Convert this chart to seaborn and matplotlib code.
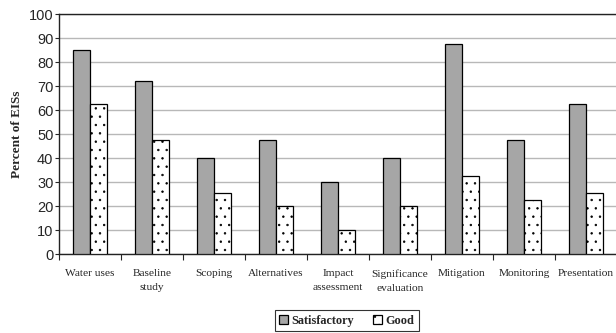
import pandas as pd
import matplotlib.pyplot as plt
import seaborn as sns
from matplotlib.ticker import FixedLocator

# dati
categories = ['Water uses', 'Baseline\nstudy', 'Scoping', 'Alternatives', 'Impact\nassessment',
              'Significance\nevaluation', 'Mitigation', 'Monitoring', 'Presentation']
satisfactory = [84.8, 72.2, 40.0, 47.7, 30.0, 40.0, 87.5, 47.7, 62.3]
good = [62.3, 47.7, 25.3, 20.0, 10.0, 20.0, 32.5, 22.5, 25.3]
series = ['Satisfactory', 'Good']

df = pd.DataFrame({
    'category': categories * 2,
    'value': satisfactory + good,
    'series': [series[0]] * len(categories) + [series[1]] * len(categories),
})

sns.set_style('white')
plt.rcParams['hatch.linewidth'] = 0.5
plt.rcParams['hatch.color'] = '#333333'

fig = plt.figure(figsize=(6.16, 3.33), dpi=100)
ax = fig.add_axes([59 / 616, 1 - 254 / 333, 558 / 616, 240 / 333])

sns.barplot(data=df, x='category', y='value', hue='series', order=categories,
            hue_order=series, palette=['#a6a6a6', 'white'], width=0.56,
            edgecolor='black', linewidth=0.9, ax=ax, legend=False, zorder=3)

for patch in ax.containers[1]:
    patch.set_hatch('..')
    patch.set_facecolor('white')

ax.set_ylim(0, 100)
ax.set_xlim(-0.5, len(categories) - 0.5)
ax.set_yticks(range(0, 101, 10))
ax.yaxis.grid(True, color='#b8b8b8', linewidth=1, zorder=0)
ax.set_axisbelow(True)

for s in ['left', 'top', 'bottom']:
    ax.spines[s].set_visible(True)
    ax.spines[s].set_color('#222222')
    ax.spines[s].set_linewidth(1)
ax.spines['right'].set_visible(False)

ax.set_xlabel('')
ax.set_ylabel('Percent of EISs', family='Liberation Serif', fontweight='bold', fontsize=9.5,
              labelpad=4)
ax.tick_params(axis='y', left=True, length=3, width=0.8, labelsize=10.5, pad=1)
for lbl in ax.get_yticklabels():
    lbl.set_family('Liberation Sans')

ax.tick_params(axis='x', which='major', length=0, pad=11, labelsize=8.2)
for lbl in ax.get_xticklabels():
    lbl.set_family('Liberation Serif')
    lbl.set_linespacing(1.65)
ax.xaxis.set_minor_locator(FixedLocator([i - 0.5 for i in range(len(categories) + 1)]))
ax.tick_params(axis='x', which='minor', bottom=True, length=4, width=0.8)

handles = [ax.containers[0][0], ax.containers[1][0]]
leg = fig.legend(handles, series, loc='center', bbox_to_anchor=(0.563, 0.037),
                 ncol=2, frameon=True, fancybox=False, edgecolor='black',
                 handlelength=0.7, handleheight=0.7, handletextpad=0.3,
                 columnspacing=1.6, borderpad=0.35,
                 prop={'family': 'Liberation Serif', 'weight': 'bold', 'size': 8.8})
leg.get_frame().set_linewidth(0.8)

fig.savefig('out.png', dpi=100)
